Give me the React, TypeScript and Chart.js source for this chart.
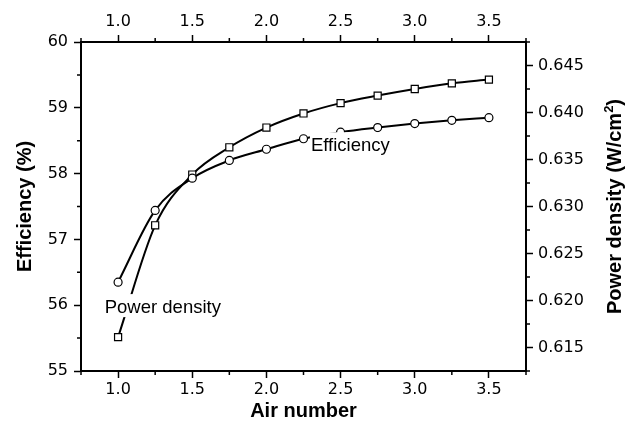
import React, { useEffect, useRef } from "react";
import { Chart, registerables } from "chart.js";

Chart.register(...registerables);

// ---- data ----
const airNumber = [1.0, 1.25, 1.5, 1.75, 2.0, 2.25, 2.5, 2.75, 3.0, 3.25, 3.5];
const efficiency = [56.35, 57.44, 57.93, 58.2, 58.37, 58.53, 58.63, 58.7, 58.76, 58.81, 58.85];
const powerDensity = [0.6161, 0.628, 0.6334, 0.6363, 0.6384, 0.6399, 0.641, 0.6418, 0.6425, 0.6431, 0.6435];

const xMajorTicks = [1.0, 1.5, 2.0, 2.5, 3.0, 3.5];
const xMinorTicks = [0.75, 1.25, 1.75, 2.25, 2.75, 3.25, 3.75];
const effMajorTicks = [55, 56, 57, 58, 59, 60];
const effMinorTicks = [55.5, 56.5, 57.5, 58.5, 59.5];
const pdMajorTicks = [0.615, 0.62, 0.625, 0.63, 0.635, 0.64, 0.645];
const pdMinorTicks = [0.6125, 0.6175, 0.6225, 0.6275, 0.6325, 0.6375, 0.6425, 0.6475];

const xTitle = "Air number";
const leftTitle = "Efficiency (%)";
const rightTitleMain = "Power density (W/cm";
const rightTitleSup = "2";
const rightTitleEnd = ")";
const effLabel = { text: "Efficiency", x: 2.3, y: 58.34 };
const pdLabel = { text: "Power density", x: 0.91, y: 55.88 };

const TICK_FONT = { family: "'DejaVu Sans', Verdana, sans-serif", size: 16 };
const TITLE_FONT = { family: "'Liberation Sans', Arial, sans-serif", size: 20, weight: "bold" as const };

const minorTickPlugin = {
  id: "minorTicks",
  afterDraw(chart: any) {
    const { ctx, chartArea, scales } = chart;
    ctx.save();
    ctx.strokeStyle = "#000";
    ctx.lineWidth = 1.5;
    const len = 4;
    ctx.beginPath();
    for (const v of xMinorTicks) {
      const px = scales.x.getPixelForValue(v);
      ctx.moveTo(px, chartArea.bottom);
      ctx.lineTo(px, chartArea.bottom + len);
      ctx.moveTo(px, chartArea.top);
      ctx.lineTo(px, chartArea.top - len);
    }
    for (const v of effMinorTicks) {
      const py = scales.y.getPixelForValue(v);
      ctx.moveTo(chartArea.left, py);
      ctx.lineTo(chartArea.left - len, py);
    }
    for (const v of pdMinorTicks) {
      const py = scales.y2.getPixelForValue(v);
      ctx.moveTo(chartArea.right, py);
      ctx.lineTo(chartArea.right + len, py);
    }
    ctx.stroke();

    // right axis title, rotated bottom-to-top with superscript
    const cy = (chartArea.top + chartArea.bottom) / 2;
    ctx.translate(614, cy);
    ctx.rotate(-Math.PI / 2);
    ctx.fillStyle = "#000";
    ctx.textBaseline = "alphabetic";
    ctx.textAlign = "left";
    const mainFont = `bold 20px ${TITLE_FONT.family}`;
    const supFont = `bold 13px ${TITLE_FONT.family}`;
    ctx.font = mainFont;
    const wMain = ctx.measureText(rightTitleMain).width;
    const wEnd = ctx.measureText(rightTitleEnd).width;
    ctx.font = supFont;
    const wSup = ctx.measureText(rightTitleSup).width;
    const total = wMain + wSup + wEnd;
    const x0 = -total / 2;
    const base = 7;
    ctx.font = mainFont;
    ctx.fillText(rightTitleMain, x0, base);
    ctx.font = supFont;
    ctx.fillText(rightTitleSup, x0 + wMain, base - 8);
    ctx.font = mainFont;
    ctx.fillText(rightTitleEnd, x0 + wMain + wSup, base);
    ctx.restore();
  },
};

const labelPlugin = {
  id: "seriesLabels",
  afterDatasetsDraw(chart: any) {
    const { ctx, scales } = chart;
    ctx.save();
    ctx.font = `18.5px 'Liberation Sans', Arial, sans-serif`;
    ctx.textBaseline = "alphabetic";
    ctx.textAlign = "left";
    for (const lab of [effLabel, pdLabel]) {
      const px = scales.x.getPixelForValue(lab.x);
      const py = scales.y.getPixelForValue(lab.y);
      const w = ctx.measureText(lab.text).width;
      ctx.fillStyle = "#fff";
      ctx.fillRect(px - 1, py - 19, w + 2, 23);
      ctx.fillStyle = "#000";
      ctx.fillText(lab.text, px, py);
    }
    ctx.restore();
  },
};

export default function App() {
  const canvasRef = useRef<HTMLCanvasElement | null>(null);

  useEffect(() => {
    const canvas = canvasRef.current;
    if (!canvas) return;
    const axisCommon = {
      type: "linear" as const,
      grid: { drawOnChartArea: false, tickLength: 7, tickWidth: 1.5, tickColor: "#000" },
      border: { color: "#000", width: 2 },
    };
    const chart = new Chart(canvas, {
      type: "line",
      data: {
        datasets: [
          {
            label: "Efficiency",
            data: airNumber.map((x, i) => ({ x, y: efficiency[i] })),
            xAxisID: "x",
            yAxisID: "y",
            borderColor: "#000",
            borderWidth: 2,
            cubicInterpolationMode: "monotone",
            pointStyle: "circle",
            pointRadius: 4,
            pointBorderWidth: 1.2,
            pointBackgroundColor: "#fff",
            pointBorderColor: "#000",
          },
          {
            label: "Power density",
            data: airNumber.map((x, i) => ({ x, y: powerDensity[i] })),
            xAxisID: "x",
            yAxisID: "y2",
            borderColor: "#000",
            borderWidth: 2,
            cubicInterpolationMode: "monotone",
            pointStyle: "rect",
            pointRadius: 5,
            pointBorderWidth: 1.2,
            pointBackgroundColor: "#fff",
            pointBorderColor: "#000",
          },
        ],
      },
      options: {
        animation: false,
        responsive: false,
        devicePixelRatio: 1,
        layout: { padding: 0 },
        plugins: { legend: { display: false }, tooltip: { enabled: false } },
        scales: {
          x: {
            ...axisCommon,
            position: "bottom",
            min: 0.75,
            max: 3.75,
            afterBuildTicks: (s: any) => {
              s.ticks = xMajorTicks.map((value) => ({ value }));
            },
            afterFit: (s: any) => {
              s.height = 51;
            },
            ticks: { color: "#000", font: TICK_FONT, padding: 2, callback: (v: any) => Number(v).toFixed(1) },
            title: { display: true, text: xTitle, color: "#000", font: TITLE_FONT, padding: { top: 0, bottom: -1 } },
          },
          x2: {
            ...axisCommon,
            position: "top",
            min: 0.75,
            max: 3.75,
            afterBuildTicks: (s: any) => {
              s.ticks = xMajorTicks.map((value) => ({ value }));
            },
            afterFit: (s: any) => {
              s.height = 42;
            },
            ticks: { color: "#000", font: TICK_FONT, padding: 4, callback: (v: any) => Number(v).toFixed(1) },
          },
          y: {
            ...axisCommon,
            position: "left",
            min: 55,
            max: 60,
            afterBuildTicks: (s: any) => {
              s.ticks = effMajorTicks.map((value) => ({ value }));
            },
            afterFit: (s: any) => {
              s.width = 81;
            },
            ticks: { color: "#000", font: TICK_FONT, padding: 6, callback: (v: any) => String(v) },
            title: { display: true, text: leftTitle, color: "#000", font: TITLE_FONT, padding: { top: 13, bottom: 0 } },
          },
          y2: {
            ...axisCommon,
            position: "right",
            min: 0.6125,
            max: 0.6475,
            afterBuildTicks: (s: any) => {
              s.ticks = pdMajorTicks.map((value) => ({ value }));
            },
            afterFit: (s: any) => {
              s.width = 108;
            },
            ticks: { color: "#000", font: TICK_FONT, padding: 5, callback: (v: any) => Number(v).toFixed(3) },
          },
        },
      } as any,
      plugins: [minorTickPlugin, labelPlugin],
    });
    return () => chart.destroy();
  }, []);

  return (
    <div style={{ position: "fixed", left: 0, top: 0, width: 634, height: 422, background: "#fff" }}>
      <canvas ref={canvasRef} width={634} height={422} style={{ display: "block" }} />
    </div>
  );
}
